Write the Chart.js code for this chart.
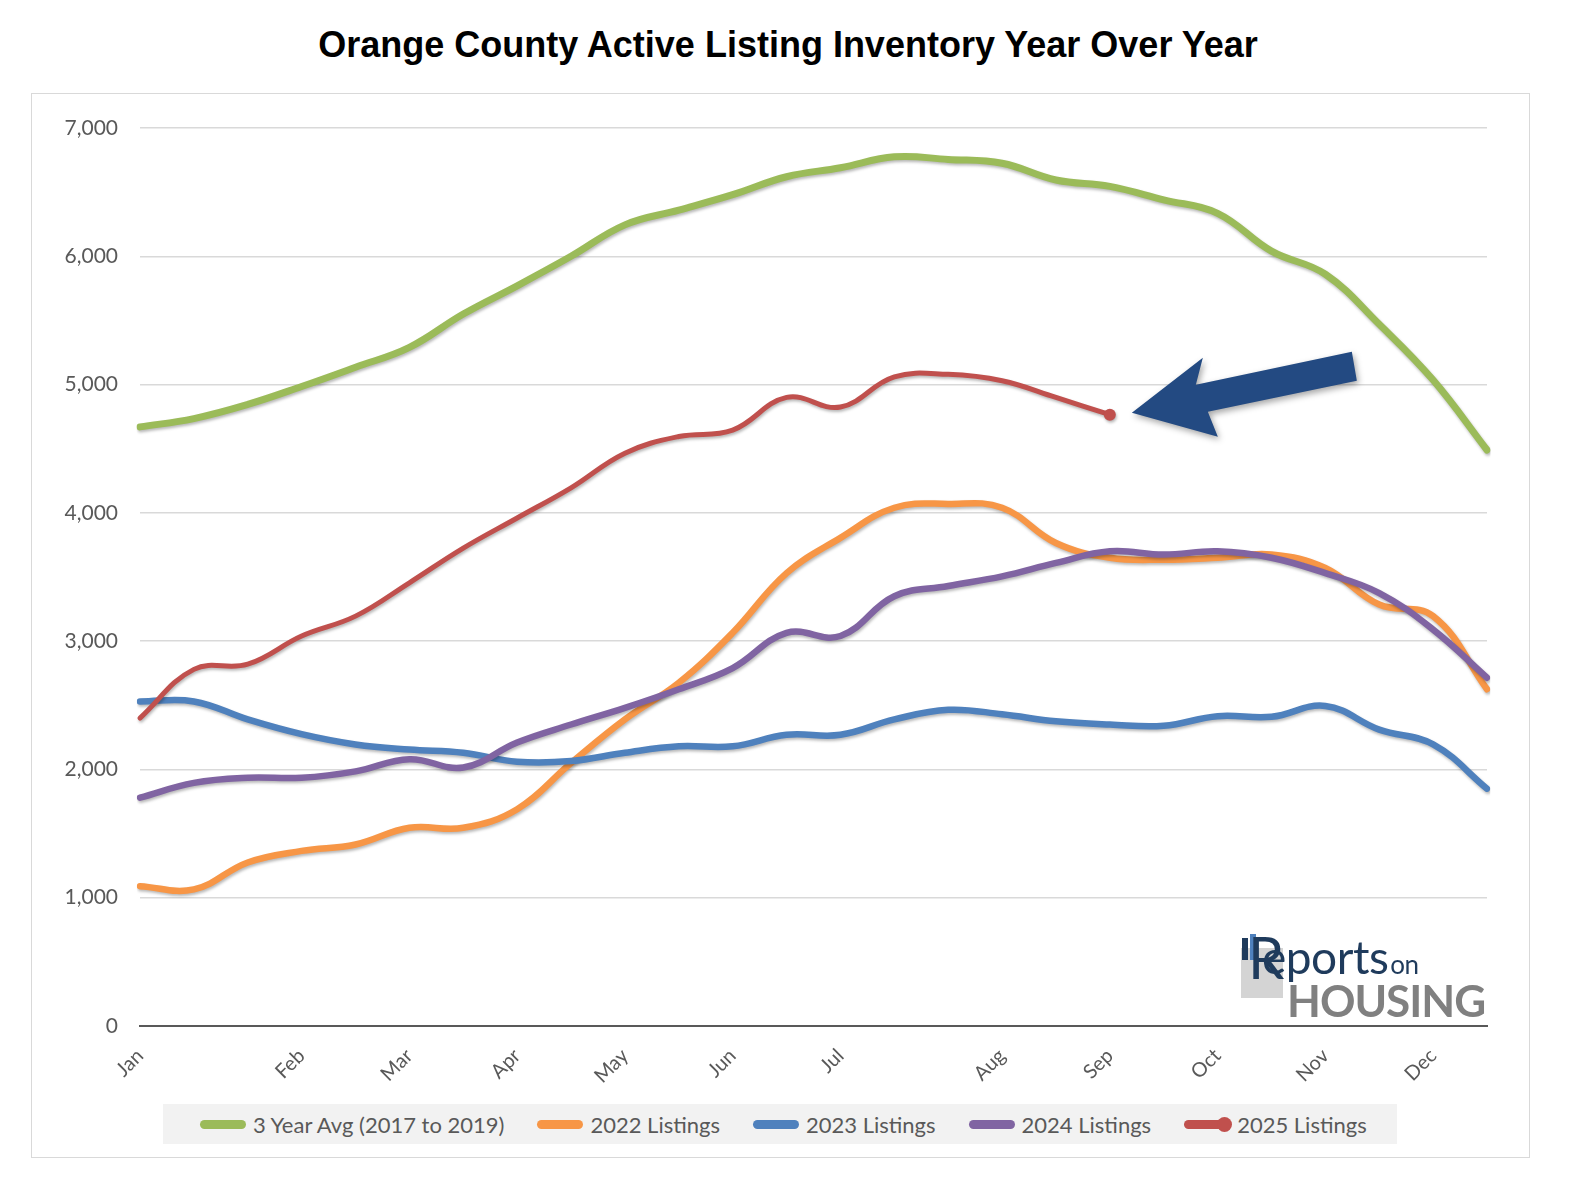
<!DOCTYPE html>
<html>
<head>
<meta charset="utf-8">
<script src="https://cdn.jsdelivr.net/npm/chart.js@4.4.1/dist/chart.umd.min.js"></script>
<style>
  html, body { margin:0; padding:0; background:#fff; }
  #page { position:relative; width:1576px; height:1182px; overflow:hidden; font-family: Lato, "Noto Sans", sans-serif; }
  #title { position:absolute; left:0; top:24px; width:1576px; text-align:center; font-family:"Liberation Sans", Arial, sans-serif; font-weight:bold; font-size:36px; color:#000; }
  #frame { position:absolute; left:31px; top:93px; width:1499px; height:1065px; border:1px solid #d9d9d9; box-sizing:border-box; }
  #wrap { position:absolute; left:0; top:0; width:1576px; height:1182px; }
  #legend { position:absolute; left:163px; top:1104px; width:1234px; height:40px; background:#f2f2f2; }
  #legend .items { position:absolute; left:37px; top:0; height:40px; display:flex; align-items:center; gap:33px; }
  #legend .item { display:flex; align-items:center; gap:7px; font-size:22px; color:#595959; white-space:nowrap; }
  #legend .mk { position:relative; width:46px; height:9px; border-radius:5px; }
  #legend .dot { position:absolute; right:-2px; top:-3px; width:15px; height:15px; border-radius:50%; }
  #logo { position:absolute; left:1240px; top:930px; width:245px; height:95px; }
</style>
</head>
<body>
<div id="page">
  <div id="title">Orange County Active Listing Inventory Year Over Year</div>
  <div id="frame"></div>
  <div id="wrap"><canvas id="c"></canvas></div>
  <div id="legend"><div class="items" id="legendItems"></div></div>
  <div id="logo">
    <div style="position:absolute;left:1px;top:18px;width:42px;height:50px;background:#d4d4d4;"></div>
    <div style="position:absolute;left:2px;top:8px;width:6px;height:22px;background:#1f3b5c;"></div>
    <div style="position:absolute;left:10px;top:4px;width:6px;height:26px;background:#4f81bd;"></div>
    <div style="position:absolute;left:8px;top:-2px;font-size:58px;color:#1f3b5c;font-family:Lato,sans-serif;line-height:1;">R</div>
    <div style="position:absolute;left:22px;top:4px;font-size:46px;color:#1f3b5c;font-family:Lato,sans-serif;line-height:1;letter-spacing:-0.5px;">eports<span style="font-size:26px;margin-left:2px;">on</span></div>
    <div style="position:absolute;left:47px;top:48px;font-size:44px;color:#808080;font-family:Lato,sans-serif;font-weight:bold;line-height:1;letter-spacing:-1px;">HOUSING</div>
  </div>
</div>
<script>
// ---- Data (biweekly points) ----
const xTickLabels = ['Jan','','','Feb','','Mar','','Apr','','May','','Jun','','Jul','','','Aug','','Sep','','Oct','','Nov','','Dec',''];

const avg2017to2019 = [4670, 4735, 4845, 4985, 5135, 5290, 5550, 5770, 6000, 6245, 6360, 6480, 6620, 6690, 6775, 6755, 6725, 6595, 6545, 6440, 6335, 6040, 5860, 5470, 5035, 4490];
const listings2022  = [1090, 1065, 1275, 1365, 1415, 1545, 1545, 1690, 2050, 2390, 2675, 3065, 3530, 3805, 4040, 4070, 4040, 3765, 3650, 3635, 3650, 3675, 3570, 3285, 3195, 2625];
const listings2023  = [2530, 2530, 2390, 2275, 2195, 2155, 2130, 2060, 2065, 2130, 2180, 2180, 2270, 2270, 2390, 2465, 2430, 2375, 2350, 2340, 2415, 2410, 2495, 2310, 2195, 1850];
const listings2024  = [1780, 1895, 1935, 1935, 1985, 2080, 2015, 2210, 2350, 2480, 2625, 2790, 3065, 3040, 3350, 3430, 3505, 3610, 3700, 3675, 3700, 3650, 3530, 3375, 3090, 2715];
const listings2025  = [2400, 2780, 2820, 3040, 3195, 3455, 3725, 3960, 4195, 4465, 4595, 4645, 4900, 4825, 5060, 5080, 5030, 4900, 4765];

const seriesNames = ['3 Year Avg (2017 to 2019)', '2022 Listings', '2023 Listings', '2024 Listings', '2025 Listings'];
const seriesColors = ['#9bbb59', '#f79646', '#4f81bd', '#8064a2', '#c0504d'];
const yTicks = [0, 1000, 2000, 3000, 4000, 5000, 6000, 7000];

// ---- Legend (HTML) ----
const li = document.getElementById('legendItems');
seriesNames.forEach((n, i) => {
  const it = document.createElement('div'); it.className = 'item';
  const mk = document.createElement('div'); mk.className = 'mk'; mk.style.background = seriesColors[i];
  if (i === 4) { const d = document.createElement('div'); d.className = 'dot'; d.style.background = seriesColors[i]; mk.appendChild(d); }
  const tx = document.createElement('span'); tx.textContent = n;
  it.appendChild(mk); it.appendChild(tx); li.appendChild(it);
});

// ---- Plugins ----
const shadowPlugin = {
  id: 'shadow',
  beforeDatasetDraw(chart) {
    const ctx = chart.ctx; ctx.save();
    ctx.shadowColor = 'rgba(0,0,0,0.28)'; ctx.shadowBlur = 3; ctx.shadowOffsetX = 1; ctx.shadowOffsetY = 2;
  },
  afterDatasetDraw(chart) { chart.ctx.restore(); }
};

const arrowPlugin = {
  id: 'arrow',
  afterDatasetsDraw(chart) {
    const meta = chart.getDatasetMeta(4);
    const p = meta.data[meta.data.length - 1];
    if (!p) return;
    const px = p.x, py = p.y;
    const pts = [[22,-2],[93,-57],[86,-30],[242,-63],[247,-34],[98,-3],[108,22]];
    const ctx = chart.ctx; ctx.save();
    ctx.shadowColor = 'rgba(0,0,0,0.35)'; ctx.shadowBlur = 6; ctx.shadowOffsetX = 2; ctx.shadowOffsetY = 3;
    ctx.fillStyle = '#234a82';
    ctx.beginPath();
    pts.forEach((o, k) => { const x = px + o[0], y = py + o[1]; if (k === 0) ctx.moveTo(x, y); else ctx.lineTo(x, y); });
    ctx.closePath(); ctx.fill(); ctx.restore();
  }
};

function ds(label, data, color, width, order) {
  return {
    label, data, borderColor: color, backgroundColor: color, borderWidth: width,
    tension: 0.4, pointRadius: 0, pointHoverRadius: 0, fill: false, order,
    borderCapStyle: 'round', borderJoinStyle: 'round'
  };
}

const datasets = [
  ds(seriesNames[0], avg2017to2019, seriesColors[0], 7, 4),
  ds(seriesNames[1], listings2022, seriesColors[1], 6.5, 3),
  ds(seriesNames[2], listings2023, seriesColors[2], 6.5, 2),
  ds(seriesNames[3], listings2024, seriesColors[3], 6.5, 1),
  ds(seriesNames[4], listings2025, seriesColors[4], 5, 0)
];
datasets[4].pointRadius = (c) => c.dataIndex === listings2025.length - 1 ? 6 : 0;
datasets[4].pointBackgroundColor = seriesColors[4];
datasets[4].pointBorderWidth = 0;

const target = { left: 140, top: 128, right: 1487, bottom: 1026 };
const pad = { top: 128, right: 1576 - 1487, bottom: 0, left: 0 };

const chart = new Chart(document.getElementById('c'), {
  type: 'line',
  data: { labels: xTickLabels, datasets },
  options: {
    responsive: true, maintainAspectRatio: false, animation: false, devicePixelRatio: 1,
    layout: { padding: pad },
    plugins: { legend: { display: false }, tooltip: { enabled: false }, title: { display: false } },
    scales: {
      x: {
        type: 'category', offset: false,
        grid: { display: false, drawTicks: false },
        border: { display: true, color: '#595959', width: 2 },
        ticks: { autoSkip: false, maxRotation: 45, minRotation: 45, padding: 18,
                 color: '#595959', font: { family: 'Lato', size: 20 } },
        afterFit(s) { s.height = 1182 - target.bottom - pad.bottom; }
      },
      y: {
        min: 0, max: 7000,
        afterBuildTicks(s) { s.ticks = yTicks.map(v => ({ value: v })); },
        grid: { color: '#d9d9d9', lineWidth: 1.5, drawTicks: false },
        border: { display: false },
        ticks: { padding: 22, color: '#595959', font: { family: 'Lato', size: 21 },
                 callback: (v) => v.toLocaleString('en-US') },
        afterFit(s) { s.width = target.left - pad.left; }
      }
    }
  },
  plugins: [shadowPlugin, arrowPlugin]
});

// fine-tune the plot area so it sits where the reference's does
for (let k = 0; k < 3; k++) {
  const ca = chart.chartArea;
  pad.top += target.top - ca.top;
  pad.right += ca.right - target.right;
  pad.bottom += ca.bottom - target.bottom;
  pad.left += target.left - ca.left;
  chart.options.layout.padding = { ...pad };
  chart.update();
}
</script>
</body>
</html>
